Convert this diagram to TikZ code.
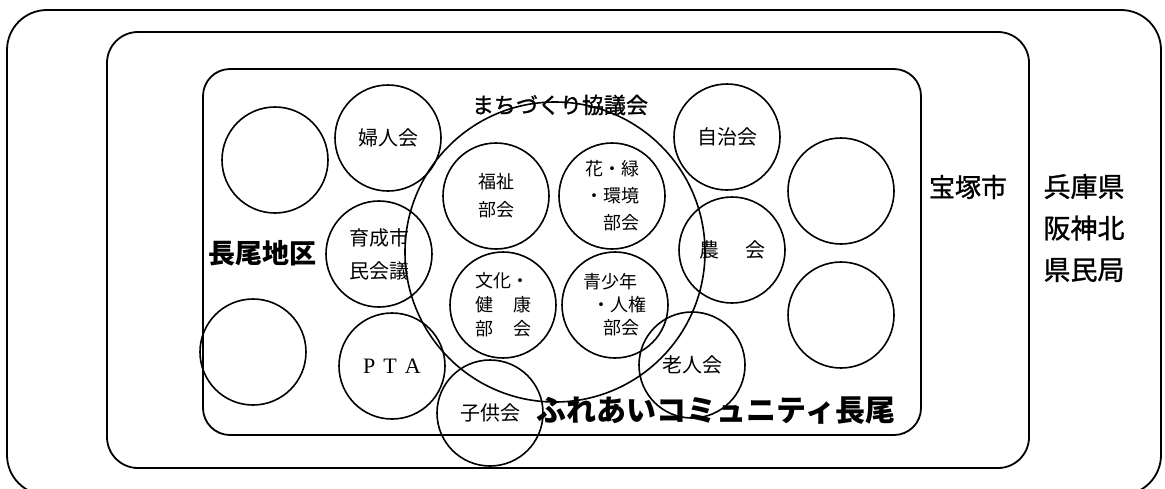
\documentclass[tikz,border=0pt]{standalone}
\usepackage{fontspec}
\setmainfont{Noto Sans CJK JP}
\newfontfamily\ptafont{Liberation Serif}
\newfontfamily\medfont[FakeBold=1.2]{Noto Sans CJK JP}
\tikzset{
    zone/.style={line width=0.9pt},
    grp/.style={draw, circle, line width=0.8pt, minimum size=53pt, inner sep=0pt,
        align=center, font=\fontsize{10}{16.5}\selectfont},
    bukai/.style={grp, font=\fontsize{9}{13}\selectfont},
    zonelbl/.style={font=\bfseries\fontsize{13.5}{20.75}\selectfont, align=left, inner sep=0pt},
}
\begin{document}
\begin{tikzpicture}[x=0.5pt, y=-0.5pt]
    \useasboundingbox (0,0) rectangle (1165,488);
    \clip (0,0) rectangle (1165,488);
    % centres of the circles (pixel grid of the sheet)
    \coordinate (k) at (555,252);
    \coordinate (e1) at (275,160);
    \coordinate (e2) at (253,352);
    \coordinate (e3) at (841,191);
    \coordinate (e4) at (841,315);
    % the three areas
    \draw[zone, rounded corners=20pt] (7,10) rectangle (1161,495);
    \draw[zone, rounded corners=15.5pt] (107,32) rectangle (1029,468);
    \draw[zone, rounded corners=13.5pt] (203,69) rectangle (921,435);
    % the council and its sections
    \node[draw, circle, line width=0.8pt, minimum size=150pt] (kyogi) at (k) {};
    \node[font=\medfont\fontsize{11}{13}\selectfont, inner sep=0pt] (kyogilbl) at (560,105) {まちづくり協議会};
    \node[bukai, font=\fontsize{9}{14}\selectfont] (fukushi) at (496,196) {福祉\\部会};
    \node[bukai, align=right, font=\fontsize{9}{13.5}\selectfont] (hana) at (612,196) {花・緑\\・環境\\部会};
    \node[bukai, align=left, font=\fontsize{9}{12}\selectfont] (bunka) at (503,305) {文化・\\健\hspace{10pt}康\\部\hspace{10pt}会};
    \node[bukai, align=left, font=\fontsize{9}{11.5}\selectfont] (seishonen) at (615,305) {青少年\\\hspace*{4.5pt}・人権\\\hspace*{10pt}部会};
    % groups round the council
    \node[grp] (fujin) at (388,138) {婦人会};
    \node[grp] (ikusei) at (379,254) {育成市\\民会議};
    \node[grp, font=\ptafont\fontsize{11}{13}\selectfont] (pta) at (392,366) {P\hspace{4pt}T\hspace{4pt}A};
    \node[grp] (jichi) at (727,137) {自治会};
    \node[grp] (nokai) at (732,250) {農\hspace{13pt}会};
    \node[grp] (rojin) at (692,365) {老人会};
    \node[grp] (kodomo) at (490,413) {子供会};
    \node[grp] (empty1) at (e1) {};
    \node[grp] (empty2) at (e2) {};
    \node[grp] (empty3) at (e3) {};
    \node[grp] (empty4) at (e4) {};
    % names of the areas
    \node[zonelbl] (nagao) at (262,253) {長尾地区};
    \node[zonelbl, font=\bfseries\fontsize{15}{18}\selectfont] (fureai) at (716,411) {ふれあいコミュニティ長尾};
    \node[zonelbl, font=\medfont\fontsize{13}{16}\selectfont] (takarazuka) at (968,187) {宝塚市};
    \node[zonelbl, font=\medfont\fontsize{13.5}{20.75}\selectfont] (hyogo) at (1084,228) {兵庫県\\阪神北\\県民局};
\end{tikzpicture}
\end{document}
